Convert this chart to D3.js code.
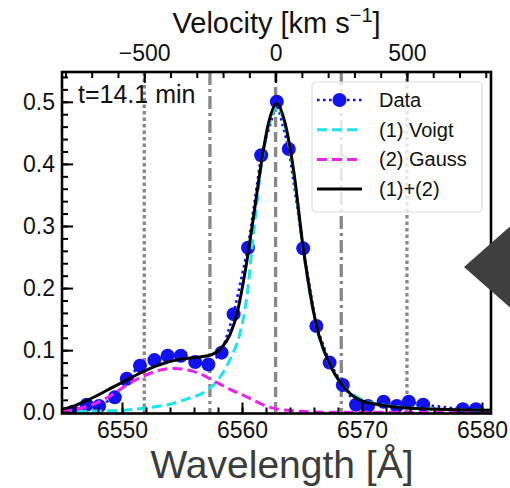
<!DOCTYPE html>
<html>
<head>
<meta charset="utf-8">
<script src="https://cdn.jsdelivr.net/npm/d3@7"></script>
<style>
  html, body { margin: 0; padding: 0; background: #fff; }
  svg { display: block; font-family: "Liberation Sans", Arial, Helvetica, sans-serif; }
</style>
</head>
<body>
<div id="chart"></div>
<script>
const dataWave = [6545.9, 6547.06, 6548.1, 6549.4, 6550.4, 6551.5, 6552.7, 6553.8, 6554.9, 6556.1,
  6557.2, 6558.3, 6559.3, 6560.5, 6561.6, 6562.9, 6563.9, 6565.1, 6566.2, 6567.3,
  6568.4, 6569.5, 6570.5, 6571.8, 6572.9, 6573.9, 6575.1, 6578.4, 6579.5];
const dataFlux = [0.001, 0.012, 0.010, 0.024, 0.054, 0.075, 0.084, 0.091, 0.091, 0.081,
  0.077, 0.096, 0.158, 0.265, 0.414, 0.500, 0.424, 0.264, 0.139, 0.080,
  0.044, 0.012, 0.010, 0.017, 0.010, 0.017, 0.012, 0.005, 0.005];

// (1) Voigt component
const voigtWave = [6545, 6548, 6550, 6552, 6554, 6555.5, 6557, 6558, 6559, 6559.8, 6560.4, 6561,
  6561.6, 6562.2, 6562.95, 6563.6, 6564.3, 6565.1, 6566.2, 6567.3, 6568.4, 6569.8, 6572, 6575, 6581];
const voigtFlux = [0.001, 0.002, 0.003, 0.007, 0.013, 0.022, 0.034, 0.052, 0.085, 0.125, 0.185, 0.295,
  0.395, 0.46, 0.492, 0.46, 0.385, 0.262, 0.138, 0.077, 0.043, 0.022, 0.011, 0.006, 0.003];

// (2) Gauss component
const gaussWave = [6545, 6546, 6547.5, 6549, 6550.5, 6552, 6553, 6554.3, 6555.5, 6556.5, 6557.5,
  6559, 6560.7, 6562, 6563, 6564.5, 6566, 6568, 6581];
const gaussFlux = [0.002, 0.004, 0.012, 0.026, 0.045, 0.060, 0.067, 0.0705, 0.068, 0.062, 0.052,
  0.037, 0.022, 0.010, 0.005, 0.002, 0.0005, 0, 0];

// (1)+(2)
const totalWave = [6545, 6546, 6547.2, 6549.3, 6550.5, 6551.4, 6552.75, 6555, 6556.5, 6557.5, 6558.3,
  6559, 6559.6, 6560, 6560.5, 6561, 6561.6, 6562.2, 6562.9, 6563.6, 6564.3, 6565.1, 6566.2,
  6567.3, 6568.4, 6569.8, 6571.8, 6574.5, 6578, 6581];
const totalFlux = [0.005, 0.010, 0.020, 0.041, 0.053, 0.062, 0.074, 0.086, 0.089, 0.093, 0.104,
  0.125, 0.160, 0.198, 0.255, 0.320, 0.400, 0.465, 0.497, 0.465, 0.390, 0.265, 0.140,
  0.078, 0.043, 0.020, 0.011, 0.006, 0.004, 0.003];

// reference velocities marked by vertical lines
const markVelocities = [-500, -250, 0, 250, 500];
const markStyles = ["dotted", "dashdot", "dashed", "dashdot", "dotted"];

const yTicks = [0, 0.1, 0.2, 0.3, 0.4, 0.5];
const xTicks = [6550, 6560, 6570, 6580];
const velTicks = [-500, 0, 500];
const legendLabels = ["Data", "(1) Voigt", "(2) Gauss", "(1)+(2)"];

const restWave = 6562.8;
const lightSpeed = 299792.458;

const width = 510, height = 488;
const margin = { top: 72, right: 19, bottom: 74.5, left: 62 };
const innerW = width - margin.left - margin.right;
const innerH = height - margin.top - margin.bottom;

const tickFont = 23;
const dashes = { dotted: "3.5,3", dashdot: "13,4,3,4", dashed: "10,5" };

const svg = d3.select("#chart").append("svg")
  .attr("width", width)
  .attr("height", height);

const x = d3.scaleLinear().domain([6545, 6580.75]).range([0, innerW]);
const y = d3.scaleLinear().domain([-0.002, 0.548]).range([innerH, 0]);

const toVel = w => (w - restWave) / restWave * lightSpeed;
const toWave = v => restWave * (1 + v / lightSpeed);
const xv = d3.scaleLinear().domain(x.domain().map(toVel)).range([0, innerW]);

const g = svg.append("g").attr("transform", `translate(${margin.left},${margin.top})`);

svg.append("defs").append("clipPath").attr("id", "plotclip")
  .append("rect").attr("width", innerW).attr("height", innerH);

const plot = g.append("g").attr("clip-path", "url(#plotclip)");

// vertical reference lines
plot.selectAll("line.mark")
  .data(markVelocities)
  .join("line")
  .attr("class", "mark")
  .attr("x1", v => x(toWave(v)))
  .attr("x2", v => x(toWave(v)))
  .attr("y1", 0)
  .attr("y2", innerH)
  .attr("stroke", "#888")
  .attr("stroke-width", 3.3)
  .attr("stroke-dasharray", (v, i) => dashes[markStyles[i]]);

const line = d3.line().x(d => x(d[0])).y(d => y(d[1]));
const smooth = d3.line().x(d => x(d[0])).y(d => y(d[1])).curve(d3.curveMonotoneX);

const blue = "#1212ee";
const cyan = "#18e6f0";
const magenta = "#ee22ee";

// data
const dataPts = d3.zip(dataWave, dataFlux);
plot.append("path")
  .attr("d", line(dataPts))
  .attr("fill", "none")
  .attr("stroke", blue)
  .attr("stroke-width", 2.6)
  .attr("stroke-dasharray", "2.6,3.4");

plot.selectAll("circle.pt")
  .data(dataPts)
  .join("circle")
  .attr("class", "pt")
  .attr("cx", d => x(d[0]))
  .attr("cy", d => y(d[1]))
  .attr("r", 7)
  .attr("fill", blue);

// model curves
plot.append("path")
  .attr("d", smooth(d3.zip(voigtWave, voigtFlux)))
  .attr("fill", "none").attr("stroke", cyan)
  .attr("stroke-width", 3).attr("stroke-dasharray", "10,5");

plot.append("path")
  .attr("d", smooth(d3.zip(gaussWave, gaussFlux)))
  .attr("fill", "none").attr("stroke", magenta)
  .attr("stroke-width", 3).attr("stroke-dasharray", "10,5");

plot.append("path")
  .attr("d", smooth(d3.zip(totalWave, totalFlux)))
  .attr("fill", "none").attr("stroke", "#000")
  .attr("stroke-width", 3);

// axes (ticks pointing inwards)
function styleAxis(sel) {
  sel.select(".domain").remove();
  sel.selectAll(".tick line").attr("stroke", "#000").attr("stroke-width", 2);
  sel.selectAll(".tick text").attr("fill", "#111").style("font-size", `${tickFont}px`);
}

g.append("g")
  .call(d3.axisLeft(y).tickValues(d3.range(0, 0.541, 0.02)).tickSize(-6).tickFormat(""))
  .call(styleAxis);
g.append("g")
  .call(d3.axisLeft(y).tickValues(yTicks).tickSize(-11).tickPadding(7).tickFormat(d3.format(".1f")))
  .call(styleAxis);

g.append("g")
  .attr("transform", `translate(0,${innerH})`)
  .call(d3.axisBottom(x).tickValues(d3.range(6546, 6581, 2)).tickSize(-6).tickFormat(""))
  .call(styleAxis);
g.append("g")
  .attr("transform", `translate(0,${innerH})`)
  .call(d3.axisBottom(x).tickValues(xTicks).tickSize(-11).tickPadding(8).tickFormat(d3.format("d")))
  .call(styleAxis);

g.append("g")
  .call(d3.axisTop(xv).tickValues(d3.range(-800, 801, 100)).tickSize(-6).tickFormat(""))
  .call(styleAxis);
g.append("g")
  .call(d3.axisTop(xv).tickValues(velTicks).tickSize(-11).tickPadding(11)
    .tickFormat(d => d < 0 ? "\u2212" + Math.abs(d) : String(d)))
  .call(styleAxis);

// frame
g.append("rect")
  .attr("width", innerW).attr("height", innerH)
  .attr("fill", "none").attr("stroke", "#000").attr("stroke-width", 2.6);

// titles
const vt = svg.append("text")
  .attr("x", margin.left + xv(0) + 1)
  .attr("y", 33)
  .attr("text-anchor", "middle")
  .attr("fill", "#111")
  .style("font-size", "29px");
vt.append("tspan").text("Velocity [km s");
vt.append("tspan").attr("dy", -11).style("font-size", "20px").text("\u22121");
vt.append("tspan").attr("dy", 11).text("]");

svg.append("text")
  .attr("x", margin.left + x(6560) + 40)
  .attr("y", 478)
  .attr("text-anchor", "middle")
  .attr("fill", "#3c3c3c")
  .style("font-size", "39px")
  .text("Wavelength [\u00c5]");

g.append("text")
  .attr("x", 16).attr("y", 31)
  .attr("fill", "#111")
  .style("font-size", "25px")
  .text("t=14.1 min");

// legend
const legend = g.append("g").attr("transform", "translate(250,10)");
legend.append("rect")
  .attr("width", 170).attr("height", 130).attr("rx", 4)
  .attr("fill", "#fff").attr("fill-opacity", 0.8)
  .attr("stroke", "#ddd").attr("stroke-width", 1.2);

const rowY = i => 18 + i * 29.7;
const handles = [
  { color: blue, dash: "2.6,3.4", w: 2.6, marker: true },
  { color: cyan, dash: "10,5", w: 3 },
  { color: magenta, dash: "10,5", w: 3 },
  { color: "#000", dash: null, w: 3 }
];
legendLabels.forEach((lab, i) => {
  const h = handles[i];
  legend.append("line")
    .attr("x1", 5).attr("x2", 50)
    .attr("y1", rowY(i)).attr("y2", rowY(i))
    .attr("stroke", h.color).attr("stroke-width", h.w)
    .attr("stroke-dasharray", h.dash);
  if (h.marker) {
    legend.append("circle").attr("cx", 27.5).attr("cy", rowY(i)).attr("r", 7).attr("fill", h.color);
  }
  legend.append("text")
    .attr("x", 67).attr("y", rowY(i) + 7)
    .attr("fill", "#111")
    .style("font-size", "20px")
    .text(lab);
});

// dark arrow shape on the right edge
svg.append("polygon")
  .attr("points", "464,267 514,223 514,311")
  .attr("fill", "#3f3f3f");
</script>
</body>
</html>
